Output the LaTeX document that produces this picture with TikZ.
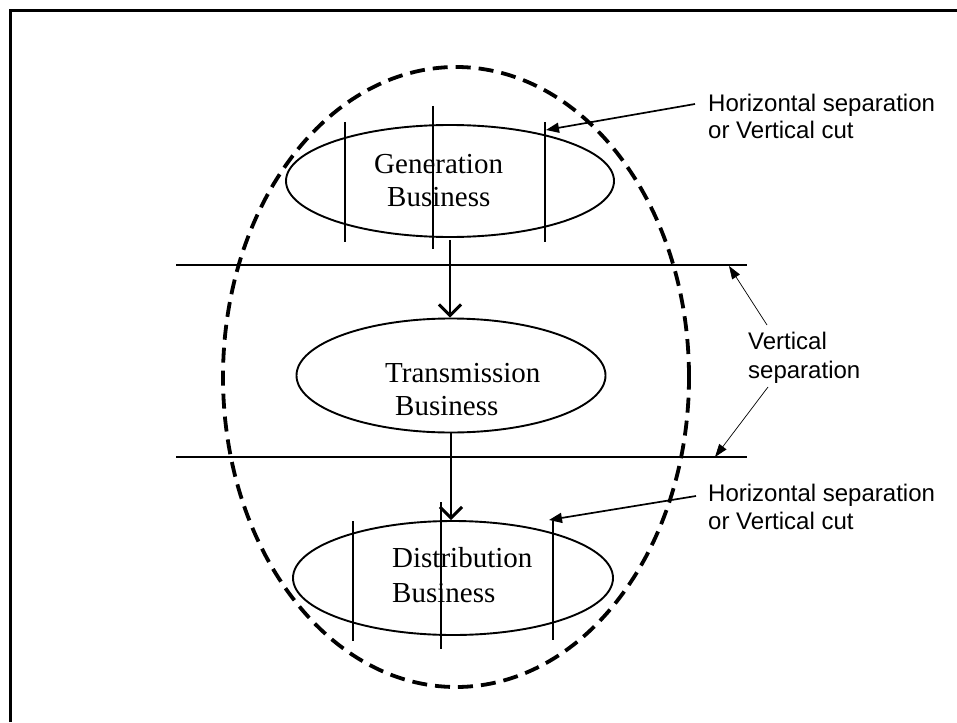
\documentclass[tikz,border=0pt]{standalone}
\usepackage{fontspec}
\setmainfont{Liberation Serif}
\newfontfamily\arialf{Liberation Sans}
\usetikzlibrary{arrows.meta,shapes.geometric}
\begin{document}
\begin{tikzpicture}[x=1pt,y=-1pt,
  biz/.style={draw,ellipse,line width=1.9pt,inner sep=0pt},
  serif/.style={inner sep=0pt,anchor=base west,font=\fontsize{29}{33}\selectfont},
  sans/.style={inner sep=0pt,anchor=base west,font=\arialf\fontsize{24}{27}\selectfont},
  cut/.style={line width=1.8pt},
  sepline/.style={line width=2.2pt},
  flow/.style={line width=2.5pt,-{Straight Barb[length=11pt,width=22pt,line width=3pt]}},
  callout/.style={line width=1.7pt,-{Triangle[length=13pt,width=10pt]}},
  thinarrow/.style={line width=0.7pt,-{Triangle[length=13pt,width=9pt]}}]
\useasboundingbox (0,0) rectangle (957,722);
% frame
\draw[line width=3pt] (10,722) -- (10,10.5) -- (957,10.5);
% outer dashed ellipse
\node[draw,ellipse,inner sep=0pt,dash pattern=on 15pt off 8pt,line width=3.8pt,
  minimum width=466pt,minimum height=620pt] (outer) at (456,377) {};
% business ellipses
\node[biz,minimum width=328pt,minimum height=112pt] (gen) at (450,181) {};
\node[biz,minimum width=309pt,minimum height=114pt] (trans) at (451,375.5) {};
\node[biz,minimum width=320pt,minimum height=114pt] (dist) at (453,578) {};
% texts
\node[serif] (g1) at (374,173) {Generation};
\node[serif] (g2) at (387,206) {Business};
\node[serif] (t1) at (385,382) {Transmission};
\node[serif] (t2) at (395,415) {Business};
\node[serif] (d1) at (392,567) {Distribution};
\node[serif] (d2) at (392,602) {Business};
% vertical cuts
\draw[cut] (345,122) -- (345,242);
\draw[cut] (433,106) -- (433,249);
\draw[cut] (545,122) -- (545,242);
\draw[cut] (353,521) -- (353,641);
\draw[cut] (441,502) -- (441,649);
\draw[cut] (553,521) -- (553,640);
% horizontal separation lines
\coordinate (h1l) at (176,265);
\coordinate (h1r) at (747,265);
\coordinate (h2l) at (176,457);
\coordinate (h2r) at (747,457);
\draw[sepline] (h1l) -- (h1r);
\draw[sepline] (h2l) -- (h2r);
% flow arrows
\draw[flow] ([yshift=-2pt]gen.south) -- (gen.south |- trans.north);
\draw[flow] (trans.south) -- (trans.south |- dist.north);
% labels
\node[sans] (la1) at (708,112) {Horizontal separation};
\node[sans] (la2) at (708,139) {or Vertical cut};
\node[sans] (lv1) at (748,349) {Vertical};
\node[sans] (lv2) at (748,378) {separation};
\node[sans] (lb1) at (708,501) {Horizontal separation};
\node[sans] (lb2) at (708,529) {or Vertical cut};
% callout arrows
\coordinate (a1s) at (695,104);
\coordinate (a1e) at (546,130);
\coordinate (a2s) at (696,496);
\coordinate (a2e) at (549,520);
\coordinate (v1s) at (767,325);
\coordinate (v1e) at (729,266);
\coordinate (v2s) at (768,387);
\coordinate (v2e) at (715,457);
\draw[callout] (a1s) -- (a1e);
\draw[callout] (a2s) -- (a2e);
\draw[thinarrow] (v1s) -- (v1e);
\draw[thinarrow] (v2s) -- (v2e);
\end{tikzpicture}
\end{document}
